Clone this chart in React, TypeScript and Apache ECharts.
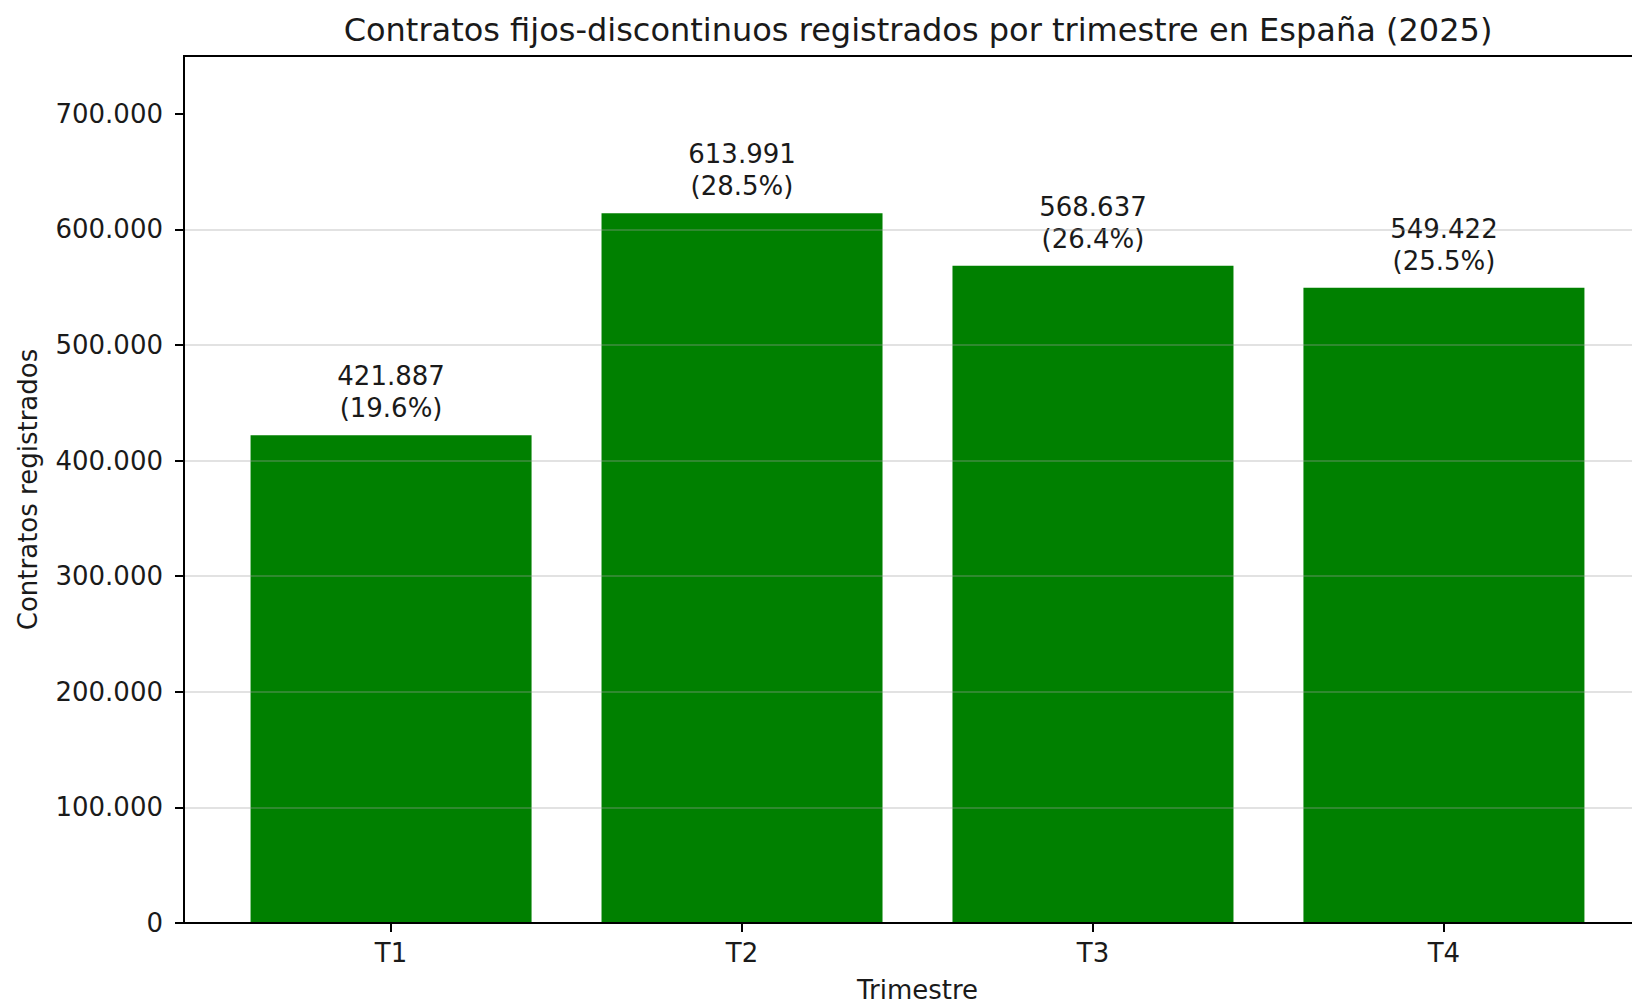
import React, { useEffect, useRef } from "react";
import * as echarts from "echarts";

const categories = ["T1", "T2", "T3", "T4"];
const contratos = [421887, 613991, 568637, 549422];
const yTicks = [0, 100000, 200000, 300000, 400000, 500000, 600000, 700000];
const xPositions = [0, 1, 2, 3];

const TITLE = "Contratos fijos-discontinuos registrados por trimestre en España (2025)";
const FONT = "DejaVu Sans";
const TEXT = "#1a1a1a";

const fmt = (v: number) => String(Math.round(v)).replace(/\B(?=(\d{3})+(?!\d))/g, ".");

export default function App() {
  const ref = useRef<HTMLDivElement>(null);
  useEffect(() => {
    document.body.style.margin = "0";
    const chart = echarts.init(ref.current!, null, { renderer: "svg" });
    const total = contratos.reduce((a, b) => a + b, 0);
    const pct = contratos.map((v) => ((v / total) * 100).toFixed(1));
    chart.setOption({
      animation: false,
      backgroundColor: "#ffffff",
      textStyle: { fontFamily: FONT, color: TEXT },
      grid: {
        left: 184,
        top: 56,
        width: 1467,
        height: 867,
        show: true,
        borderColor: "#000",
        borderWidth: 2,
        backgroundColor: "transparent",
        containLabel: false,
        outerBoundsMode: "none",
      },
      graphic: [
        {
          type: "text",
          x: 918,
          y: 30,
          style: {
            text: TITLE,
            fontFamily: FONT,
            fontSize: 32,
            fill: TEXT,
            textAlign: "center",
            textVerticalAlign: "middle",
          },
        },
      ],
      xAxis: {
        type: "value",
        min: -0.59,
        max: 3.59,
        z: 3,
        name: "Trimestre",
        nameLocation: "middle",
        nameGap: 54,
        nameTextStyle: { fontFamily: FONT, fontSize: 26, lineHeight: 26, color: TEXT },
        axisLine: { show: true, onZero: false, lineStyle: { color: "#000", width: 2 } },
        axisTick: { show: true, length: 9, lineStyle: { color: "#000", width: 2 }, customValues: xPositions },
        axisLabel: {
          customValues: xPositions,
          formatter: (v: number) => categories[Math.round(v)] ?? "",
          fontFamily: FONT,
          fontSize: 26,
          color: TEXT,
          margin: 17,
        },
        splitLine: { show: false },
      },
      yAxis: {
        type: "value",
        min: 0,
        max: 750000,
        interval: 100000,
        z: 3,
        name: "Contratos registrados",
        nameLocation: "middle",
        nameGap: 143,
        nameTextStyle: { fontFamily: FONT, fontSize: 26, color: TEXT },
        axisLine: { show: true, onZero: false, lineStyle: { color: "#000", width: 2 } },
        axisTick: { show: true, length: 9, lineStyle: { color: "#000", width: 2 }, customValues: yTicks },
        axisLabel: {
          customValues: yTicks,
          formatter: (v: number) => fmt(v),
          fontFamily: FONT,
          fontSize: 26,
          color: TEXT,
          margin: 21,
        },
        splitLine: {
          show: true,
          showMinLine: false,
          showMaxLine: false,
          lineStyle: { color: "rgba(160,160,160,0.3)", width: 2 },
        },
      },
      series: [
        {
          type: "bar",
          data: contratos.map((v, i) => [xPositions[i], v]),
          barWidth: 281,
          itemStyle: { color: "#008000" },
          label: {
            show: true,
            position: "top",
            distance: 11,
            formatter: (p: any) => `${fmt(p.value[1])}\n(${pct[p.dataIndex]}%)`,
            fontFamily: FONT,
            fontSize: 26,
            lineHeight: 32,
            color: TEXT,
            align: "center",
          },
        },
      ],
    });
    return () => chart.dispose();
  }, []);
  return <div ref={ref} style={{ position: "absolute", left: 0, top: 0, width: 1632, height: 1004 }} />;
}
